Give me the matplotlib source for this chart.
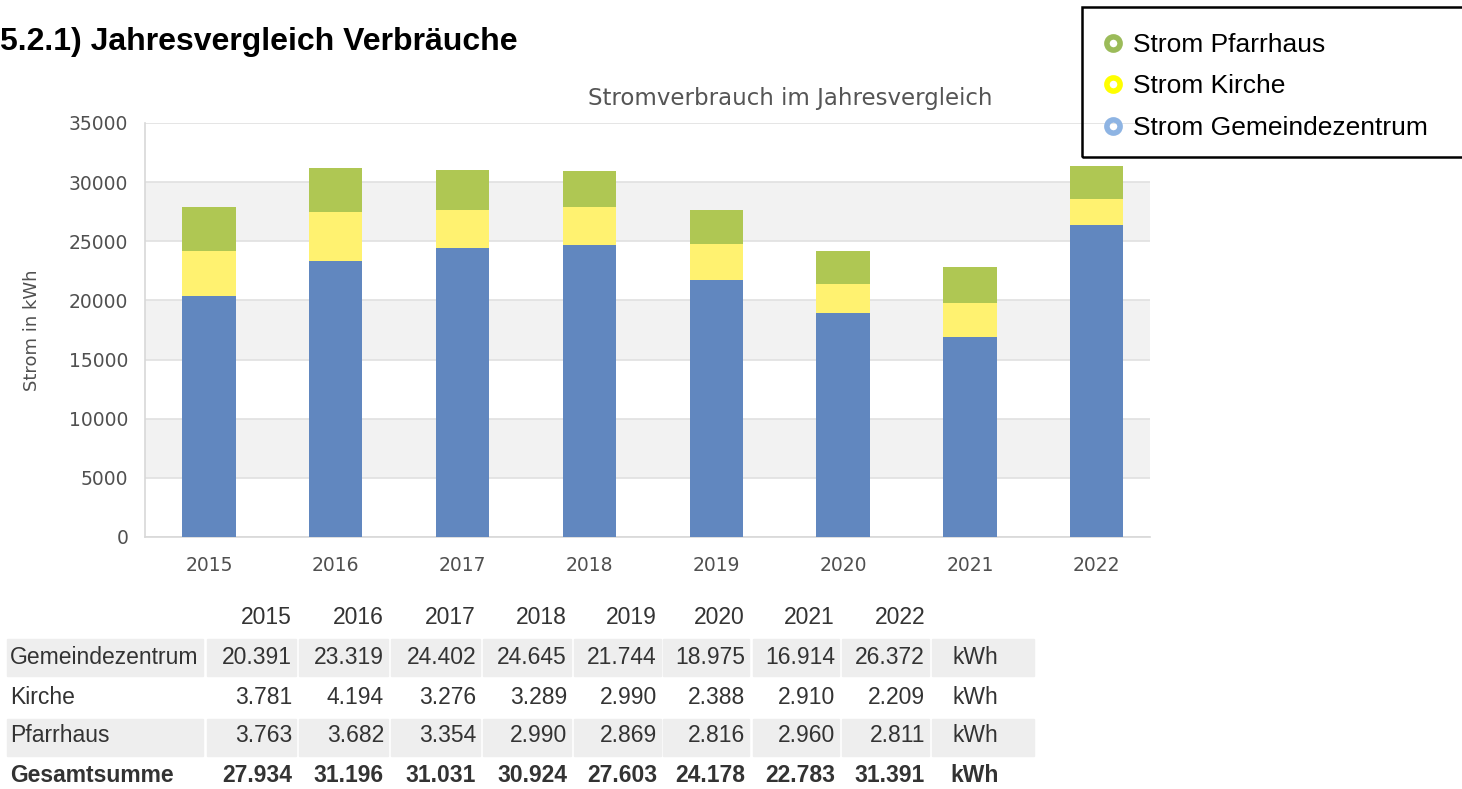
import matplotlib
matplotlib.use("Agg")
import matplotlib.pyplot as plt
from matplotlib.lines import Line2D
from matplotlib.patches import Rectangle
import numpy as np

years = ["2015", "2016", "2017", "2018", "2019", "2020", "2021", "2022"]
gemeindezentrum = [20391, 23319, 24402, 24645, 21744, 18975, 16914, 26372]
kirche = [3781, 4194, 3276, 3289, 2990, 2388, 2910, 2209]
pfarrhaus = [3763, 3682, 3354, 2990, 2869, 2816, 2960, 2811]
gesamtsumme = [27934, 31196, 31031, 30924, 27603, 24178, 22783, 31391]
y_ticks = [0, 5000, 10000, 15000, 20000, 25000, 30000, 35000]

W, H = 1462, 789
fig = plt.figure(figsize=(W / 100, H / 100), dpi=100)


def fx(x):
    return x / W


def fy(y):
    return 1 - y / H


# chart area in pixels: left 145, right 1150, top 123, bottom 537
ax = fig.add_axes([fx(145), fy(537), (1150 - 145) / W, (537 - 123) / H])

x = np.arange(len(years))
gz = np.array(gemeindezentrum)
ki = np.array(kirche)
ph = np.array(pfarrhaus)
bw = 0.42
ax.bar(x, gz, bw, color="#6187bf", zorder=3)
ax.bar(x, ki, bw, bottom=gz, color="#fff270", zorder=3)
ax.bar(x, ph, bw, bottom=gz + ki, color="#afc753", zorder=3)

ax.set_xlim(-0.505, 7.42)
ax.set_ylim(0, 35000)
ax.set_yticks(y_ticks)
ax.set_yticklabels([str(v) for v in y_ticks])
ax.set_xticks(x)
ax.set_xticklabels(years)
for lo, hi in zip(y_ticks[1::2], y_ticks[2::2]):
    ax.axhspan(lo, hi, color="#f2f2f2", zorder=0, lw=0)
ax.grid(axis="y", color="#e0e0e0", lw=1.2, zorder=1)
ax.tick_params(length=0, labelsize=13.5, labelcolor="#505050")
ax.tick_params(axis="y", pad=12)
ax.tick_params(axis="x", pad=14)
for s in ["top", "right"]:
    ax.spines[s].set_visible(False)
for s in ["left", "bottom"]:
    ax.spines[s].set_color("#d8d8d8")
    ax.spines[s].set_linewidth(1.2)
ax.set_ylabel("Strom in kWh", fontsize=13, color="#505050")
ax.yaxis.set_label_coords(-(145 - 41) / (1150 - 145), 0.5)

fig.text(fx(790), fy(98), "Stromverbrauch im Jahresvergleich", ha="center", va="center",
         fontsize=16.5, color="#555555", family="DejaVu Sans")

fig.text(fx(0), fy(42), "5.2.1) Jahresvergleich Verbräuche", ha="left", va="center",
         fontsize=23, fontweight="bold", family="Liberation Sans", color="black")

# legend
handles = [
    Line2D([], [], ls="none", marker="o", ms=9.5, mfc="none", mec="#9bbb59", mew=4, label="Strom Pfarrhaus"),
    Line2D([], [], ls="none", marker="o", ms=9.5, mfc="none", mec="#ffff00", mew=4, label="Strom Kirche"),
    Line2D([], [], ls="none", marker="o", ms=9.5, mfc="none", mec="#8eb4e3", mew=4, label="Strom Gemeindezentrum"),
]
fig.legend(handles=handles, loc="upper left", bbox_to_anchor=(fx(1105), fy(33)),
           frameon=False, prop={"family": "Liberation Sans", "size": 19},
           handlelength=0.6, handletextpad=0.45, labelspacing=0.66,
           borderpad=0, borderaxespad=0)
fig.patches.append(Rectangle((fx(1082), fy(157)), (1470 - 1082) / W, (157 - 7) / H,
                             transform=fig.transFigure, fill=False, ec="black", lw=1.8))

# table
label_cell = (7, 203)
col_left = [207, 299, 391, 483, 574, 663, 753, 842]
col_right = [296, 388, 480, 571, 661, 749, 839, 929]
unit_cell = (932, 1034)
row_y = [657, 697, 736, 775]
row_bounds = {0: (639, 676), 2: (719, 756)}
rows = [("Gemeindezentrum", gemeindezentrum), ("Kirche", kirche),
        ("Pfarrhaus", pfarrhaus), ("Gesamtsumme", gesamtsumme)]
tfont = dict(family="Liberation Sans", fontsize=16.5, color="#333333", va="center")


def fmt(v):
    return f"{v:,}".replace(",", ".")


for c, yr in enumerate(years):
    fig.text(fx(col_right[c] - 4), fy(617), yr, ha="right", **tfont)

for r, (name, vals) in enumerate(rows):
    yc = row_y[r]
    bold = "bold" if r == 3 else "normal"
    if r in row_bounds:
        t, b = row_bounds[r]
        cells = [label_cell] + list(zip(col_left, col_right)) + [unit_cell]
        for l, rr in cells:
            fig.patches.append(Rectangle((fx(l), fy(b)), (rr - l) / W, (b - t) / H,
                                         transform=fig.transFigure, color="#eeeeee", zorder=0))
    fig.text(fx(10), fy(yc), name, ha="left", fontweight=bold, **tfont)
    for c, v in enumerate(vals):
        fig.text(fx(col_right[c] - 4), fy(yc), fmt(v), ha="right", fontweight=bold, **tfont)
    fig.text(fx(975), fy(yc), "kWh", ha="center", fontweight=bold, **tfont)

fig.savefig("out.png", dpi=100)
